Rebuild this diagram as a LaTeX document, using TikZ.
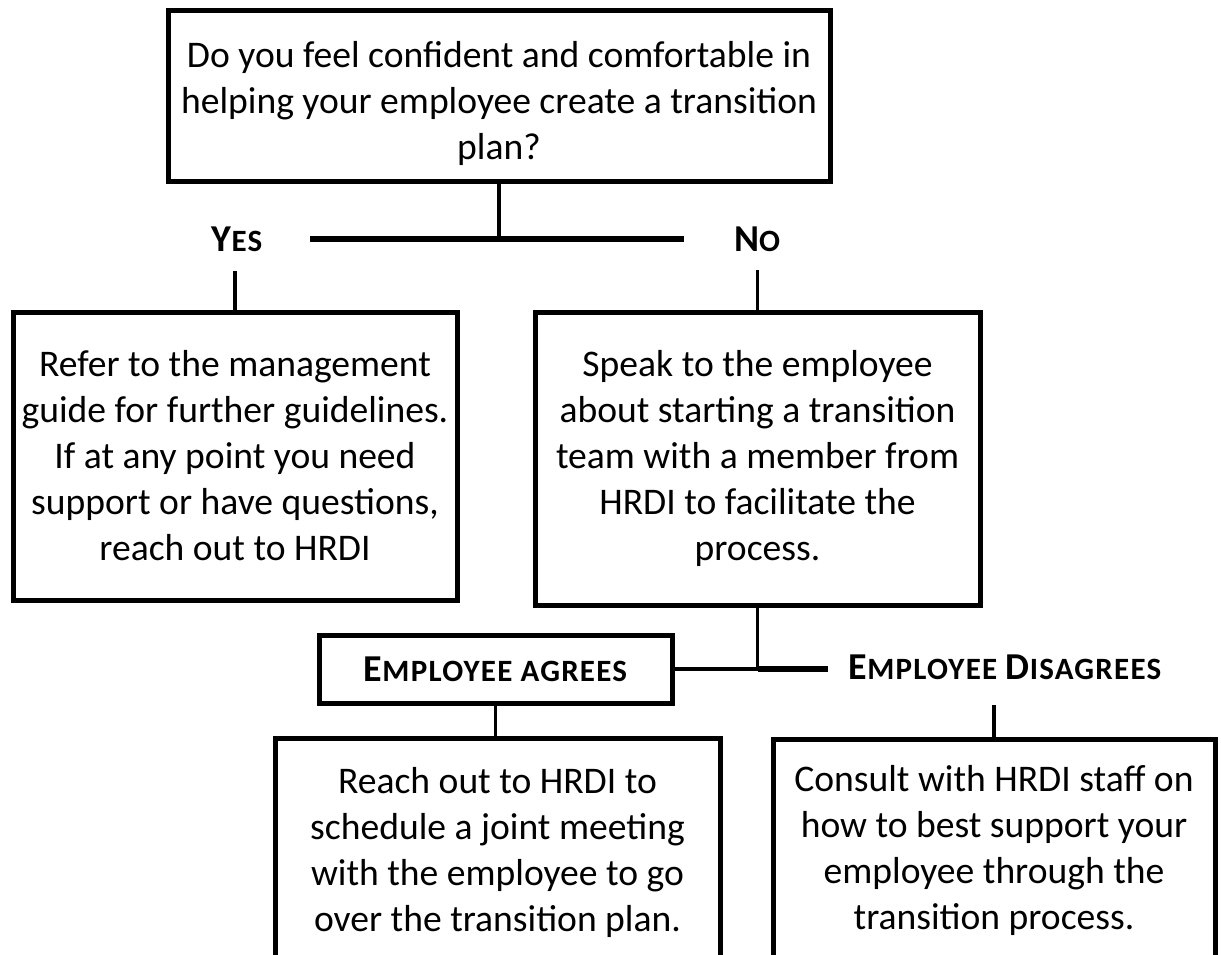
\documentclass[tikz,border=0pt]{standalone}
\usepackage{fontspec}
\setmainfont{Carlito}
\usetikzlibrary{positioning}
\newcommand{\lowcaps}[1]{{\fontsize{15.5}{16}\selectfont\addfontfeatures{LetterSpace=4}#1}}

\begin{document}
\begin{tikzpicture}[
    x=0.5pt, y=-0.5pt,
    box/.style={rectangle, draw, line width=2.5pt, align=center, inner sep=0pt, font=\fontsize{18.8}{23}\selectfont},
    tag/.style={inner sep=0pt, font=\fontsize{19}{20}\selectfont\bfseries},
    link/.style={line width=1.8pt},
    bar/.style={line width=2.6pt}
]
    \useasboundingbox (0,0) rectangle (1221,954);

    \node[box, minimum width=331pt, minimum height=85.5pt, text height=69pt, text depth=5pt] (question) at (499,95.5) {Do you feel confident and comfortable in\\helping your employee create a transition\\plan?};
    \node[tag] (yes) at (237,239) {Y\lowcaps{ES}};
    \node[tag] (no) at (757,239) {N\lowcaps{O}};
    \node[box, minimum width=222pt, minimum height=144pt] (refer) at (235,456) {Refer to the management\\guide for further guidelines.\\If at any point you need\\support or have questions,\\reach out to HRDI};
    \node[box, minimum width=222.5pt, minimum height=146.5pt] (speak) at (757.5,458.5) {Speak to the employee\\about starting a transition\\team with a member from\\HRDI to facilitate the\\process.};
    \node[box, tag, minimum width=176.5pt, minimum height=34pt] (agrees) at (495.5,669) {E\lowcaps{MPLOYEE AGREES}};
    \node[tag] (disagrees) at (1005,667) {E\lowcaps{MPLOYEE} D\lowcaps{ISAGREES}};
    \node[box, minimum width=222.5pt, minimum height=114pt] (reach) at (497.5,852) {Reach out to HRDI to\\schedule a joint meeting\\with the employee to go\\over the transition plan.};
    \node[box, minimum width=221pt, minimum height=111.5pt] (consult) at (994,850.5) {Consult with HRDI staff on\\how to best support your\\employee through the\\transition process.};

    \coordinate (yesend) at (310,239);
    \coordinate (noend) at (684,239);
    \coordinate (disend) at (828,669);

    \draw[bar] (yesend) -- (noend);
    \draw[link] (question.south) -- (question.south |- noend);
    \draw[link] (refer.north) -- ++(0,-39);
    \draw[link] (speak.north) -- ++(0,-40);
    \draw[link] (speak.south) -- (speak.south |- disend) coordinate (join);
    \draw[link] (agrees.east) -- (join);
    \draw[bar] (join) -- (disend);
    \draw[link] (agrees.south) -- (agrees.south |- reach.north);
    \draw[link] (consult.north) -- ++(0,-32);
\end{tikzpicture}
\end{document}
